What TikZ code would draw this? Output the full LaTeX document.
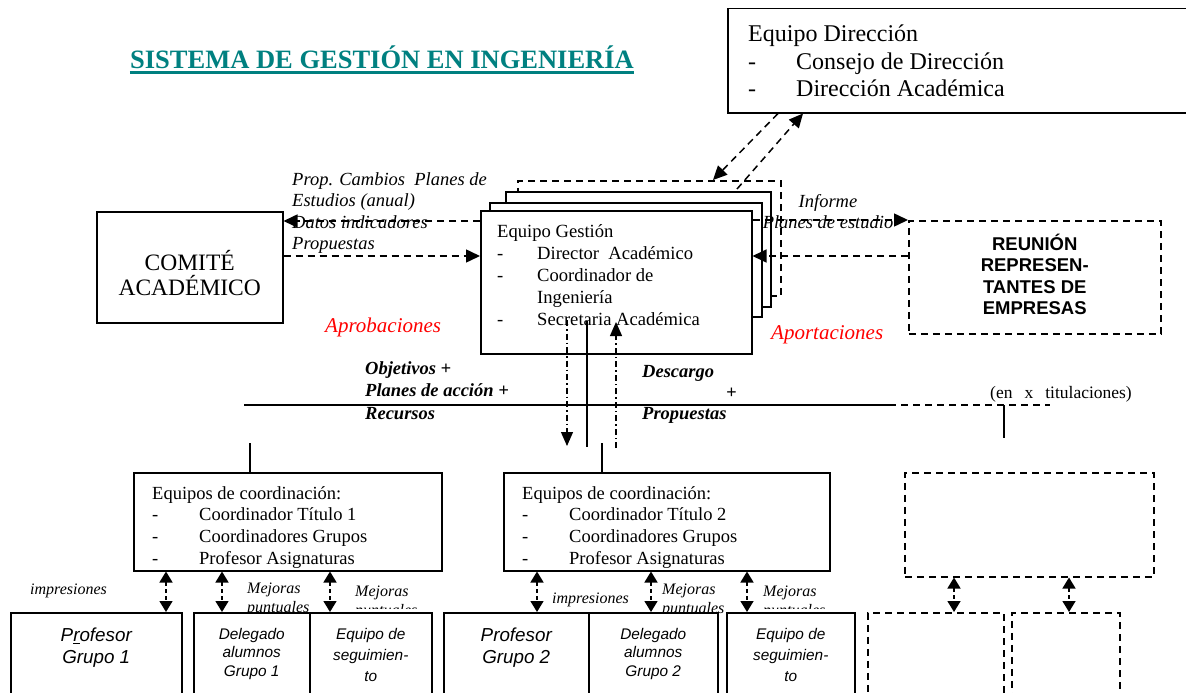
\documentclass[tikz,border=0pt]{standalone}
\usepackage{fontspec}
\setmainfont{Liberation Serif}
\newfontfamily\arialf{Liberation Sans}
\usetikzlibrary{arrows.meta,positioning}
\definecolor{verdetitulo}{RGB}{0,128,128}

\tikzset{
  caja/.style={draw, line width=1.5pt, fill=white, inner sep=0pt, anchor=north west},
  cajap/.style={caja, dash pattern=on 7pt off 5pt},
  texto/.style={inner sep=0pt, anchor=north west, align=left},
  rayas/.style={line width=1.5pt, dash pattern=on 7pt off 5pt},
  flecha/.style={rayas, -{Triangle[length=14pt,width=13pt]}},
  dflecha/.style={line width=1.5pt, dash pattern=on 4pt off 3pt,
    {Triangle[length=11pt,width=13pt]}-{Triangle[length=11pt,width=13pt]}},
  puntoraya/.style={line width=1.2pt, dash pattern=on 6pt off 3pt on 1.5pt off 3pt},
  mejoras/.style={texto, font=\fontsize{16}{18.5}\selectfont\itshape},
}
\newcommand{\guion}[1]{\makebox[#1][l]{-}}

\begin{document}
\begin{tikzpicture}[x=1pt,y=-1pt]
	\useasboundingbox (0,0) rectangle (1186,693);
	\clip (0,0) rectangle (1186,693);
	
	% titulo
	\node[inner sep=0pt, anchor=base, text=verdetitulo,
	  font=\fontsize{26.5}{30}\selectfont\bfseries] (titulo) at (382,68.5) {SISTEMA DE GESTIÓN EN INGENIERÍA};
	\draw[verdetitulo, line width=2.5pt] ([yshift=-4pt]titulo.base west) -- ([yshift=-4pt]titulo.base east);
	
	% equipo direccion
	\node[caja, minimum width=560pt, minimum height=104pt] (direccion) at (727,8) {};
	\node[texto, font=\fontsize{24}{27.5}\selectfont] (direcciontxt) at (748,25)
	  {Equipo Dirección\\\guion{48pt}Consejo de Dirección\\\guion{48pt}Dirección Académica};
	
	% equipo gestion (varias cajas)
	\node[cajap, minimum width=263pt, minimum height=115pt] (gestion3) at (517,180) {};
	\node[caja, minimum width=265pt, minimum height=115pt] (gestion2) at (505,191) {};
	\node[caja, minimum width=272pt, minimum height=114pt] (gestion1) at (489,202) {};
	\node[caja, minimum width=271pt, minimum height=143pt] (gestion) at (480,210) {};
	\node[texto, font=\fontsize{18.6}{22}\selectfont] (gestiontxt) at (497,224)
	  {Equipo Gestión\\\guion{40pt}Director\ \ Académico\\\guion{40pt}Coordinador de\\\hspace{40pt}Ingeniería\\\guion{40pt}Secretaria Académica};
	
	\node[caja, minimum width=186pt, minimum height=111pt] (comite) at (96,211) {};
	\node[inner sep=0pt, align=center, font=\fontsize{23.5}{25}\selectfont] (comitetxt)
	  at ([yshift=-6pt]comite.center) {COMITÉ\\ACADÉMICO};
	\node[cajap, minimum width=252pt, minimum height=113pt] (reunion) at (908,220) {};
	\node[inner sep=0pt, align=center, font=\fontsize{18.5}{21.3}\selectfont\arialf\bfseries] (reuniontxt)
	  at ([yshift=3pt]reunion.center) {REUNIÓN\\REPRESEN-\\TANTES DE\\EMPRESAS};
	
	% etiquetas
	\node[texto, font=\fontsize{18.5}{21.5}\selectfont\itshape] (cambios) at (292,172)
	  {Prop. Cambios\ \ Planes de\\Estudios (anual)\\Datos indicadores\\Propuestas};
	\node[texto, anchor=north, align=center, font=\fontsize{18.5}{21.5}\selectfont\itshape] (informe) at (828,194)
	  {Informe\\Planes de estudio};
	\node[inner sep=0pt, anchor=base west, red, font=\fontsize{21}{24}\selectfont\itshape] (aprobaciones) at (325,332) {Aprobaciones};
	\node[inner sep=0pt, anchor=base west, red, font=\fontsize{21}{24}\selectfont\itshape] (aportaciones) at (771,339) {Aportaciones};
	\node[texto, font=\fontsize{18.5}{22.5}\selectfont\bfseries\itshape] (objetivos) at (365,361)
	  {Objetivos +\\Planes de acción +\\Recursos};
	\node[texto, font=\fontsize{18.5}{21}\selectfont\bfseries\itshape] (descargo) at (642,365)
	  {Descargo\\\hspace{84pt}+\\Propuestas};
	\node[inner sep=0pt, anchor=base west, font=\fontsize{17.5}{20}\selectfont] (titulaciones) at (990,398)
	  {(en\hspace{12pt}x\hspace{12pt}titulaciones)};
	
	% lineas centrales
	\draw[line width=1.5pt] (244,405) -- (889,405);
	\draw[rayas] (889,405) -- (1050,405);
	\draw[line width=1.2pt] (1004,405) -- (1004,438);
	\draw[puntoraya, -{Triangle[length=14pt,width=12pt]}] (567,320) -- (567,446);
	\draw[line width=1.2pt] (587,321) -- (587,447);
	\draw[puntoraya, -{Triangle[length=14pt,width=12pt]}] (616,448) -- (616,322);
	
	% equipos de coordinacion
	\node[caja, minimum width=308pt, minimum height=98pt] (coord1) at (133,472) {};
	\node[caja, minimum width=326pt, minimum height=98pt] (coord2) at (503,472) {};
	\node[cajap, minimum width=249pt, minimum height=104pt] (coord3) at (904,472) {};
	\node[texto, font=\fontsize{18.5}{21.7}\selectfont] (coord1txt) at (152,486)
	  {Equipos de coordinación:\\\guion{47pt}Coordinador Título 1\\\guion{47pt}Coordinadores Grupos\\\guion{47pt}Profesor Asignaturas};
	\node[texto, font=\fontsize{18.5}{21.7}\selectfont] (coord2txt) at (522,486)
	  {Equipos de coordinación:\\\guion{47pt}Coordinador Título 2\\\guion{47pt}Coordinadores Grupos\\\guion{47pt}Profesor Asignaturas};
	\draw[line width=1.2pt] (250,443) -- (coord1.north -| 250,0);
	\draw[line width=1.2pt] (602,443) -- (coord2.north -| 602,0);
	
	% flechas gestion
	\draw[flecha] (gestion.west |- 0,221) -- (comite.east |- 0,221);
	\draw[flecha] (comite.east |- 0,256) -- (gestion.west |- 0,256);
	\draw[flecha] (gestion.east |- 0,220) -- (reunion.west |- 0,220);
	\draw[flecha] (reunion.west |- 0,256) -- (gestion.east |- 0,256);
	\draw[flecha] (direccion.south -| 778,0) -- (gestion3.north -| 713,0);
	\draw[flecha] (737,189) -- (direccion.south -| 803,0);
	
	% etiquetas pequenas
	\node[inner sep=0pt, anchor=base west, font=\fontsize{16}{17}\selectfont\itshape] (impresiones1) at (30,594) {impresiones};
	\node[inner sep=0pt, anchor=base west, font=\fontsize{16}{17}\selectfont\itshape] (impresiones2) at (552,603) {impresiones};
	\node[mejoras] (mejoras1) at (247,583) {Mejoras\\puntuales};
	\node[mejoras] (mejoras3) at (662,584) {Mejoras\\puntuales};
	\begin{scope}
		\clip (340,570) rectangle (440,608);
		\node[mejoras] (mejoras2) at (355,586) {Mejoras\\puntuales};
	\end{scope}
	\begin{scope}
		\clip (750,570) rectangle (850,608);
		\node[mejoras] (mejoras4) at (763,586) {Mejoras\\puntuales};
	\end{scope}
	
	% cajas inferiores
	\node[caja, minimum width=171pt, minimum height=100pt] (prof1) at (10,612) {};
	\node[caja, minimum width=116pt, minimum height=100pt] (deleg1) at (193,612) {};
	\node[caja, minimum width=122pt, minimum height=100pt] (segui1) at (309,612) {};
	\node[caja, minimum width=145pt, minimum height=100pt] (prof2) at (443,612) {};
	\node[caja, minimum width=129pt, minimum height=100pt] (deleg2) at (588,612) {};
	\node[caja, minimum width=128pt, minimum height=100pt] (segui2) at (726,612) {};
	\node[cajap, minimum width=136pt, minimum height=100pt] (vacia1) at (867,612) {};
	\node[cajap, minimum width=108pt, minimum height=100pt] (vacia2) at (1011,612) {};
	
	\node[texto, anchor=north, align=center, font=\fontsize{18.8}{22}\selectfont\arialf\itshape] (prof1txt)
	  [below=16pt of prof1.north] {P\underline{r}ofesor\\Grupo 1};
	\node[texto, anchor=north, align=center, font=\fontsize{15.4}{18.5}\selectfont\arialf\itshape] (deleg1txt)
	  [below=16pt of deleg1.north] {Delegado\\alumnos\\Grupo 1};
	\node[texto, anchor=north, align=center, font=\fontsize{15.4}{21}\selectfont\arialf\itshape] (segui1txt)
	  [below=16pt of segui1.north] {Equipo de\\seguimien-\\to};
	\node[texto, anchor=north, align=center, font=\fontsize{18.8}{22}\selectfont\arialf\itshape] (prof2txt)
	  [below=16pt of prof2.north] {Profesor\\Grupo 2};
	\node[texto, anchor=north, align=center, font=\fontsize{15.4}{18.5}\selectfont\arialf\itshape] (deleg2txt)
	  [below=16pt of deleg2.north] {Delegado\\alumnos\\Grupo 2};
	\node[texto, anchor=north, align=center, font=\fontsize{15.4}{21}\selectfont\arialf\itshape] (segui2txt)
	  [below=16pt of segui2.north] {Equipo de\\seguimien-\\to};
	
	% flechas dobles
	\foreach \x in {166,222,330}
	\draw[dflecha] (coord1.south -| \x,0) -- (prof1.north -| \x,0);
	\foreach \x in {537,651,747}
	\draw[dflecha] (coord2.south -| \x,0) -- (prof2.north -| \x,0);
	\foreach \x in {954,1069}
	\draw[dflecha] (coord3.south -| \x,0) -- (vacia1.north -| \x,0);
\end{tikzpicture}
\end{document}
